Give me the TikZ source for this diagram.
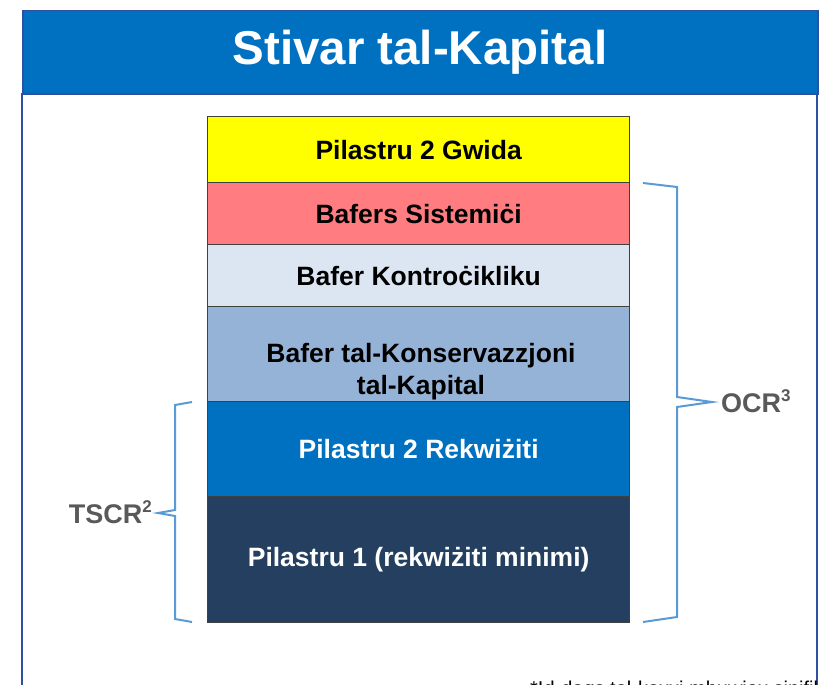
\documentclass[tikz,border=0pt]{standalone}
\usepackage{fontspec}
\setmainfont{Liberation Sans}
\definecolor{hdrblue}{HTML}{0070C0}
\definecolor{framedark}{HTML}{2F4FA0}
\definecolor{cyellow}{HTML}{FFFF00}
\definecolor{cred}{HTML}{FF7C80}
\definecolor{clight}{HTML}{DCE6F2}
\definecolor{cmid}{HTML}{95B3D7}
\definecolor{cblue}{HTML}{0070C0}
\definecolor{cdark}{HTML}{243F60}
\definecolor{bracecol}{HTML}{5B9BD5}
\definecolor{labgray}{HTML}{595959}
\newcommand{\mysup}[1]{\raisebox{0.42em}{\fontsize{17}{17}\selectfont #1}}
\begin{document}
\begin{tikzpicture}[x=1pt,y=-1pt,
  layerbox/.style={draw=black!75, line width=1.3pt, minimum width=422pt, inner sep=0pt, anchor=north west,
    font=\fontsize{26.5}{30}\selectfont\bfseries, text=black},
  bracestyle/.style={draw=bracecol, line width=2pt, line join=miter},
  sidelabel/.style={font=\fontsize{27}{30}\selectfont\bfseries, text=labgray, inner sep=0pt}]
\useasboundingbox (0,0) rectangle (819,685);
\clip (0,0) rectangle (819,685);
\fill[white] (0,0) rectangle (819,685);
% frame and header
\draw[framedark, line width=1.5pt] (22,690) -- (22,93);
\draw[framedark, line width=1.5pt] (817,690) -- (817,93);
\node[draw=framedark, line width=1.5pt, fill=hdrblue, minimum width=795pt, minimum height=83pt, inner sep=0pt, anchor=north west] (hdr) at (22,10) {};
\node[text=white, font=\fontsize{47.5}{54}\selectfont\bfseries, inner sep=0pt] (title) at (420,52) {Stivar tal-Kapital};
% layers
\node[layerbox, fill=cyellow, minimum height=66pt] (b1) at (207,116) {Pilastru 2 Gwida};
\node[layerbox, fill=cred, minimum height=62pt] (b2) at (207,182) {Bafers Sistemiċi};
\node[layerbox, fill=clight, minimum height=62pt] (b3) at (207,244) {Bafer Kontroċikliku};
\node[layerbox, fill=cmid, minimum height=95pt] (b4) at (207,306) {};
\node[font=\fontsize{26.5}{32}\selectfont\bfseries, align=center, inner sep=0pt] (b4t) at (421,372) {Bafer tal-Konservazzjoni\\tal-Kapital};
\node[layerbox, fill=cblue, minimum height=95pt, text=white] (b5) at (207,401) {Pilastru 2 Rekwiżiti};
\node[layerbox, fill=cdark, minimum height=126pt, text=white] (b6) at (207,496) {Pilastru 1 (rekwiżiti minimi)};
% braces
\draw[bracestyle] (643,183) -- (677,187) -- (677,397) -- (712,402) -- (677,407) -- (677,617) -- (643,622);
\node[sidelabel, anchor=west] (ocr) at (721,401) {OCR\mysup{3}};
\draw[bracestyle] (192,402) -- (175,405) -- (175,510) -- (158,513) -- (175,516) -- (175,619) -- (192,622);
\node[sidelabel, anchor=east] (tscr) at (152,512) {TSCR\mysup{2}};
% footnote (cut off at the lower edge, as in the reference)
\node[font=\fontsize{20}{24}\selectfont, anchor=base west, inner sep=0pt] (foot) at (530,695) {*Id-daqs tal-kaxxi mhuwiex sinifikattiv};
\end{tikzpicture}
\end{document}
